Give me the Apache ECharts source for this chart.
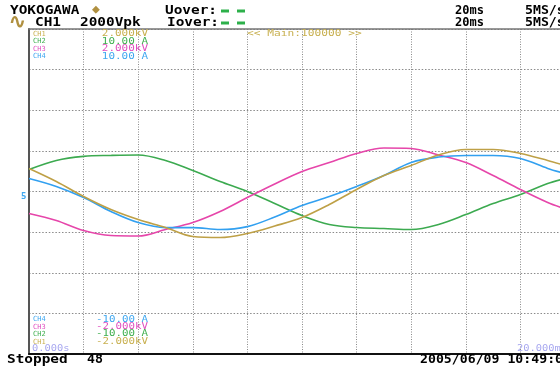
<!DOCTYPE html>
<html>
<head>
<meta charset="utf-8">
<script src="https://cdn.jsdelivr.net/npm/echarts@6/dist/echarts.min.js"></script>
<style>html,body{margin:0;padding:0;background:#fff}#c{width:560px;height:374px}</style>
</head>
<body>
<div id="c"></div>
<script>
// time in ms (2 ms/div; the 20 ms screen is clipped at the right edge of the picture)
const times = [0,1,2,3,4,5,6,7,8,9,10,11,12,13,14,15,16,17,18,19,19.5];
// CH1 voltage (kV), range -2..2 kV
const ch1 = [0.283,0.123,-0.062,-0.222,-0.345,-0.443,-0.554,-0.567,-0.517,-0.425,-0.320,-0.160,0.025,0.197,0.320,0.450,0.517,0.517,0.468,0.382,0.333];
// CH2 current (A), range -10..10 A
const ch2 = [1.35,1.91,2.16,2.22,2.25,1.91,1.29,0.62,0.00,-0.74,-1.48,-2.03,-2.22,-2.28,-2.34,-2.03,-1.42,-0.74,-0.18,0.49,0.74];
// CH3 voltage (kV)
const ch3 = [-0.271,-0.357,-0.480,-0.542,-0.548,-0.468,-0.382,-0.246,-0.074,0.092,0.246,0.357,0.468,0.536,0.530,0.450,0.357,0.197,0.025,-0.135,-0.197];
// CH4 current (A)
const ch4 = [0.80,0.31,-0.37,-1.23,-1.91,-2.22,-2.22,-2.34,-2.16,-1.57,-0.86,-0.31,0.31,0.99,1.79,2.12,2.22,2.22,2.03,1.42,1.17];

const topLabels = [['CH1','2.000kV'],['CH2','10.00 A'],['CH3','2.000kV'],['CH4','10.00 A']];
const botLabels = [['CH4','-10.00 A'],['CH3','-2.000kV'],['CH2','-10.00 A'],['CH1','-2.000kV']];

const colLine = {CH1:'#bea046', CH2:'#3caa50', CH3:'#e646aa', CH4:'#32a0f0'};
const colText = {CH1:'#c8b050', CH2:'#40b050', CH3:'#e050c0', CH4:'#40a8f0'};

const chart = echarts.init(document.getElementById('c'), null, {renderer:'canvas'});
const mono = '"DejaVu Sans Mono", monospace';

function txt(text, x, y, opt) {
  opt = opt || {};
  return {
    type:'text', x:x, y:y, scaleX: opt.sx || 1, z: 100,
    style:{
      text:text, fill: opt.color || '#000',
      font: (opt.bold ? 'bold ' : '') + (opt.size || 12) + 'px ' + mono,
      textAlign: opt.align || 'left', textVerticalAlign:'middle'
    }
  };
}

const graphics = [
  txt('YOKOGAWA', 10, 11, {bold:true, sx:1.2}),
  txt('\u25C6', 92, 10, {color:'#b09040', size:13}),
  txt('Uover:', 165, 11, {bold:true, sx:1.2}),
  txt('\u223F', 9, 23, {color:'#b09040', size:20, bold:true}),
  txt('CH1', 35, 23, {bold:true, sx:1.2}),
  txt('2000Vpk', 80, 23, {bold:true, sx:1.2}),
  txt('Iover:', 167, 23, {bold:true, sx:1.2}),
  {type:'rect', shape:{x:221,y:9.5,width:8,height:3}, style:{fill:'#2db04a'}},
  {type:'rect', shape:{x:237,y:9.5,width:8,height:3}, style:{fill:'#2db04a'}},
  {type:'rect', shape:{x:221,y:21.5,width:8,height:3}, style:{fill:'#2db04a'}},
  {type:'rect', shape:{x:237,y:21.5,width:8,height:3}, style:{fill:'#2db04a'}},
  txt('20ms', 455, 11, {bold:true}),
  txt('20ms', 455, 23, {bold:true}),
  txt('5MS/s', 525, 11, {bold:true, sx:1.1}),
  txt('5MS/s', 525, 23, {bold:true, sx:1.1}),
  txt('<< Main:100000 >>', 247, 34, {color:'#c8b050', size:8, sx:1.4}),
  txt('0.000s', 32, 349, {color:'#a8a8f0', size:8, sx:1.3}),
  txt('20.000ms', 517, 349, {color:'#a8a8f0', size:8, sx:1.3}),
  txt('Stopped', 7, 360, {bold:true, sx:1.2}),
  txt('48', 87, 360, {bold:true, sx:1.1}),
  txt('2005/06/09 10:49:05', 420, 360, {bold:true, sx:1.1}),
  txt('5', 21, 197, {color:'#40a8f0', size:9, bold:true})
];
topLabels.forEach((l, i) => {
  const y = 34 + i * 7.5;
  graphics.push(txt(l[0], 33, y, {color:colText[l[0]], size:7}));
  graphics.push(txt(l[1], 148, y, {color:colText[l[0]], size:8, sx:1.37, align:'right'}));
});
botLabels.forEach((l, i) => {
  const y = 319.5 + i * 7.4;
  graphics.push(txt(l[0], 33, y, {color:colText[l[0]], size:7}));
  graphics.push(txt(l[1], 148, y, {color:colText[l[0]], size:8, sx:1.35, align:'right'}));
});

function mk(name, arr, axisIdx) {
  return {
    name:name, type:'line', yAxisIndex:axisIdx, xAxisIndex:0,
    data: times.map((t, i) => [t, arr[i]]),
    smooth:0.35, showSymbol:false, symbol:'none',
    lineStyle:{color:colLine[name], width:1.6},
    itemStyle:{color:colLine[name]}, animation:false, clip:true
  };
}

const xMax = 19.45; // visible part of the 20 ms screen
chart.setOption({
  animation:false,
  backgroundColor:'#fff',
  grid:{left:29, top:29, right:0, bottom:20, containLabel:false},
  xAxis:[
    {type:'value', min:0, max:xMax, interval:2, position:'bottom',
     axisLine:{show:true, onZero:false, lineStyle:{color:'#111', width:2}},
     axisTick:{show:false}, axisLabel:{show:false},
     splitLine:{show:true, lineStyle:{color:'#8a8a8a', width:1, type:[1,1.5]}}},
    {type:'value', min:0, max:xMax, interval:2, position:'top',
     axisLine:{show:true, onZero:false, lineStyle:{color:'#777', width:1.5}},
     axisTick:{show:false}, axisLabel:{show:false}, splitLine:{show:false}}
  ],
  yAxis:[
    {type:'value', min:-2, max:2, interval:0.5, position:'left',
     axisLine:{show:true, onZero:false, lineStyle:{color:'#555', width:2}},
     axisTick:{show:false}, axisLabel:{show:false},
     splitLine:{show:true, lineStyle:{color:'#8a8a8a', width:1, type:[1.5,1.8]}}},
    {type:'value', min:-10, max:10, interval:2.5, position:'left',
     axisLine:{show:false}, axisTick:{show:false}, axisLabel:{show:false}, splitLine:{show:false}}
  ],
  series:[
    mk('CH2', ch2, 1),
    mk('CH3', ch3, 0),
    mk('CH4', ch4, 1),
    mk('CH1', ch1, 0)
  ],
  graphic: graphics
});
</script>
</body>
</html>
